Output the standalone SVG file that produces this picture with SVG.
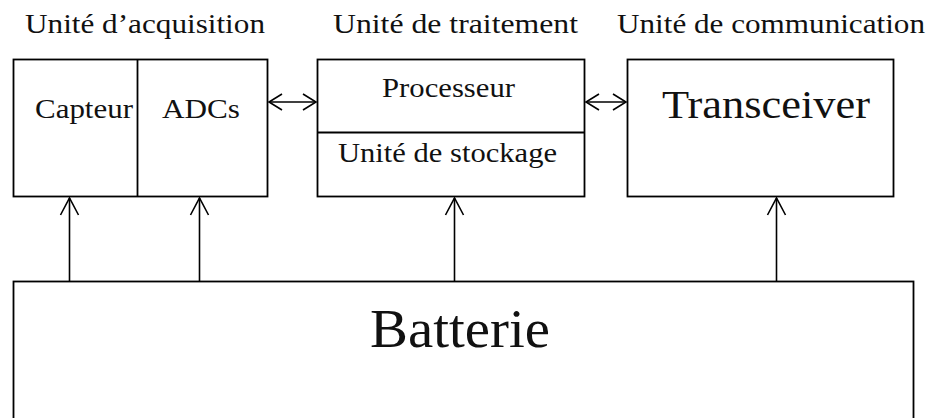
<svg xmlns="http://www.w3.org/2000/svg" width="932" height="418" viewBox="0 0 932 418">
  <style>
    .box { fill: #ffffff; stroke: #000000; stroke-width: 1.8; }
    .div { fill: none; stroke: #000000; stroke-width: 1.8; }
    .conn { fill: none; stroke: #000000; stroke-width: 1.6; }
    text { font-family: "Liberation Serif", "Times New Roman", serif; fill: #111111; }
    .hdr { font-size: 27px; }
    .lbl { font-size: 27px; }
  </style>
  <defs>
    <marker id="vhead" markerUnits="userSpaceOnUse" markerWidth="24" markerHeight="24" viewBox="-20 -12 24 24" refX="0" refY="0" orient="auto-start-reverse">
      <path d="M -17 -9 L 0 0 L -17 9" fill="none" stroke="#000000" stroke-width="1.6"/>
    </marker>
    <marker id="hhead" markerUnits="userSpaceOnUse" markerWidth="20" markerHeight="20" viewBox="-16 -10 20 20" refX="0" refY="0" orient="auto-start-reverse">
      <path d="M -13 -8 L 0 0 L -13 8" fill="none" stroke="#000000" stroke-width="1.6"/>
    </marker>
  </defs>
  <rect width="932" height="418" fill="#ffffff"/>

  <text class="hdr" x="25" y="33" textLength="240" lengthAdjust="spacingAndGlyphs">Unité d’acquisition</text>
  <text class="hdr" x="333" y="33" textLength="245" lengthAdjust="spacingAndGlyphs">Unité de traitement</text>
  <text class="hdr" x="617" y="33" textLength="308" lengthAdjust="spacingAndGlyphs">Unité de communication</text>

  <g id="acquisition">
    <rect class="box" x="13.5" y="59.5" width="254" height="137"/>
    <line class="div" x1="137.5" y1="59.5" x2="137.5" y2="196.5"/>
    <text class="lbl" x="35" y="118" textLength="98" lengthAdjust="spacingAndGlyphs">Capteur</text>
    <text class="lbl" x="162" y="118" textLength="78" lengthAdjust="spacingAndGlyphs">ADCs</text>
  </g>

  <g id="traitement">
    <rect class="box" x="317.5" y="59.5" width="267" height="137"/>
    <line class="div" x1="317.5" y1="132.5" x2="584.5" y2="132.5"/>
    <text class="lbl" x="382" y="97" textLength="133" lengthAdjust="spacingAndGlyphs">Processeur</text>
    <text class="lbl" x="338" y="162" textLength="219" lengthAdjust="spacingAndGlyphs">Unité de stockage</text>
  </g>

  <g id="communication">
    <rect class="box" x="627.5" y="59.5" width="266" height="137"/>
    <text x="662" y="118" font-size="40" textLength="208" lengthAdjust="spacingAndGlyphs">Transceiver</text>
  </g>

  <g id="batterie">
    <rect class="box" x="13.5" y="281.5" width="900" height="150"/>
    <text x="370" y="347" font-size="54" textLength="180" lengthAdjust="spacingAndGlyphs">Batterie</text>
  </g>

  <g id="connectors">
    <line class="conn" x1="269" y1="102" x2="316" y2="102" marker-start="url(#hhead)" marker-end="url(#hhead)"/>
    <line class="conn" x1="586" y1="102" x2="626" y2="102" marker-start="url(#hhead)" marker-end="url(#hhead)"/>
    <line class="conn" x1="69.5" y1="281" x2="69.5" y2="198" marker-end="url(#vhead)"/>
    <line class="conn" x1="199.5" y1="281" x2="199.5" y2="198" marker-end="url(#vhead)"/>
    <line class="conn" x1="454.5" y1="281" x2="454.5" y2="198" marker-end="url(#vhead)"/>
    <line class="conn" x1="776.5" y1="281" x2="776.5" y2="198" marker-end="url(#vhead)"/>
  </g>
</svg>
